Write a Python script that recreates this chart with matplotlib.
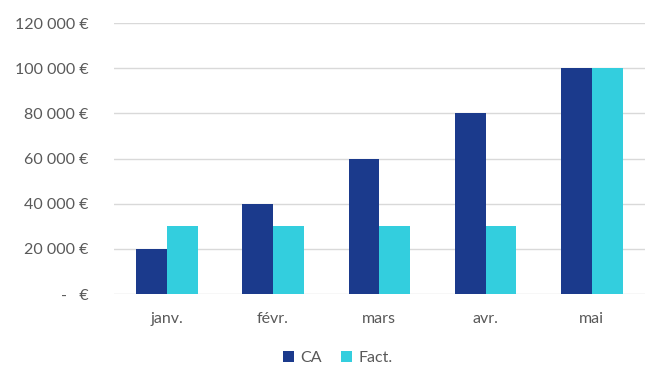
import numpy as np
import matplotlib
matplotlib.use("Agg")
import matplotlib.pyplot as plt
from matplotlib.ticker import FuncFormatter

months = ["janv.", "févr.", "mars", "avr.", "mai"]
ca = [20000, 40000, 60000, 80000, 100000]
fact = [30000, 30000, 30000, 30000, 100000]

plt.rcParams['font.family'] = ['Lato', 'DejaVu Sans']
txt = '#595959'

fig = plt.figure(figsize=(6.69, 3.90), dpi=100)
ax = fig.add_axes([0.170, 0.246, 0.794, 0.695])

x = np.arange(len(months))
w = 0.29
ax.bar(x - w/2, ca, w, color='#1B3A8C', label='CA', zorder=3)
ax.bar(x + w/2, fact, w, color='#33CEDE', label='Fact.', zorder=3)

ax.set_xlim(-0.5, len(months) - 0.5)
ax.set_ylim(0, 120000)
ax.set_yticks(np.arange(0, 120001, 20000))

def euro(v, pos):
    if v == 0:
        return "-   €"
    return "{:,.0f} €".format(v).replace(",", " ")

ax.yaxis.set_major_formatter(FuncFormatter(euro))
ax.set_xticks(x)
ax.set_xticklabels(months)
ax.grid(axis='y', color='#D9D9D9', linewidth=1, zorder=0)
for s in ax.spines.values():
    s.set_visible(False)
ax.tick_params(axis='both', length=0, colors=txt, labelsize=11.5)
ax.tick_params(axis='y', pad=18)
ax.tick_params(axis='x', pad=13)

fig.legend(loc='center', bbox_to_anchor=(0.505, 0.082), ncol=2, frameon=False,
           fontsize=11.5, labelcolor=txt, handlelength=0.7, handleheight=0.7,
           handletextpad=0.4, columnspacing=1.2)

fig.savefig("out.png", dpi=100)
